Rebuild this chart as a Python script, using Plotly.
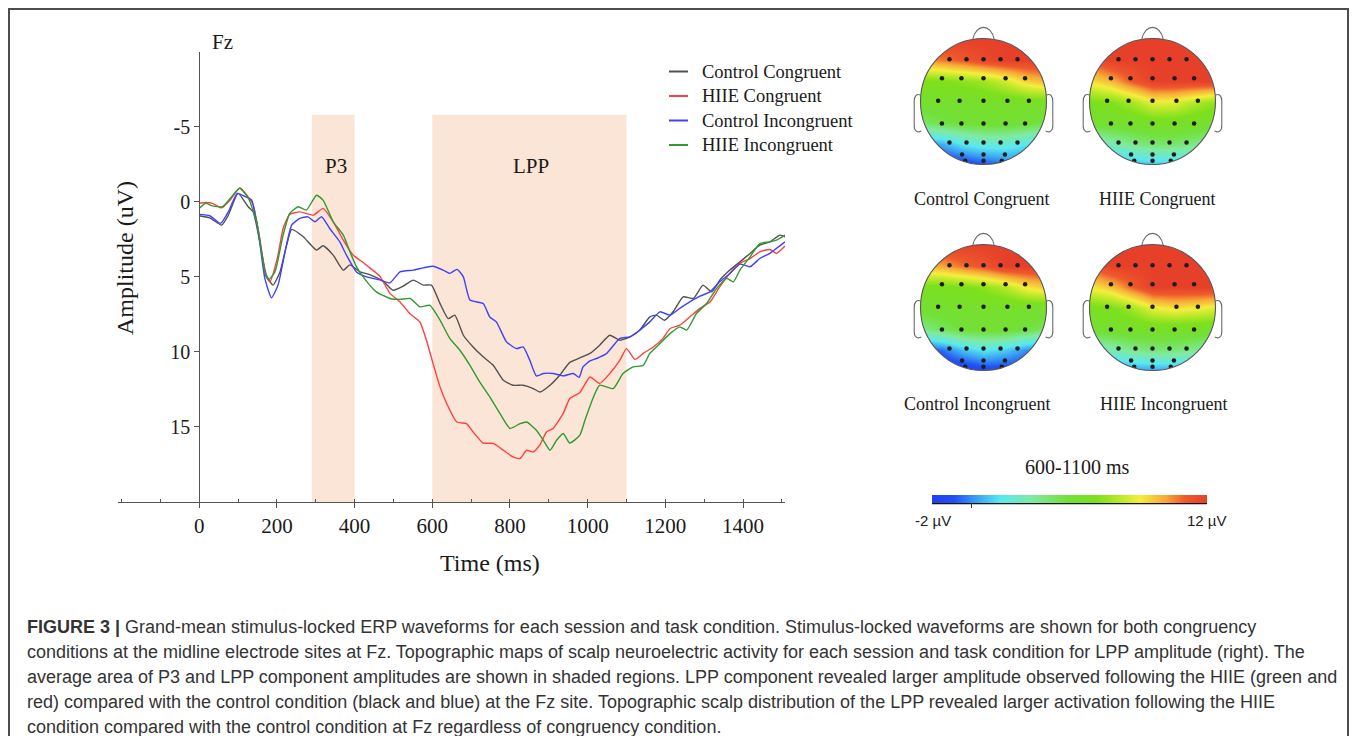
import numpy as np
import plotly.graph_objects as go

# page body has an 8px margin: figure is placed at (8, 8) of the 1357x744 window
OFF = 8
W, H = 1341, 728
SERIF = "Liberation Serif, Times New Roman, serif"
SANS = "Liberation Sans, Arial, sans-serif"

# ---------------- ERP waveforms at Fz (time ms, amplitude uV) ----------------
t_cc = [0, 27, 58, 75, 100, 126, 139, 156, 173, 190, 208, 225, 238, 268, 302, 319, 345, 371, 388, 414,
        439, 474, 499, 525, 551, 577, 598, 620, 641, 658, 680, 705, 731, 757, 783, 808, 834, 860, 877, 903,
        928, 954, 980, 1006, 1031, 1057, 1083, 1109, 1134, 1160, 1177, 1198, 1220, 1246, 1272, 1297, 1319,
        1340, 1366, 1392, 1418, 1443, 1469, 1495, 1508]
v_cc = [0.93, 1.07, 1.55, 0.89, -0.56, 0.33, 0.67, 2.67, 4.9, 5.55, 4.67, 2.89, 1.84, 2.33, 3.22, 2.93, 3.55,
        4.55, 4.2, 4.67, 4.85, 5.3, 5.89, 5.62, 5.22, 5.55, 5.55, 6.78, 7.78, 7.55, 8.89, 9.67, 10.33, 10.89,
        11.89, 12.22, 12.22, 12.44, 12.67, 12.22, 11.55, 10.7, 10.4, 10.1, 9.55, 8.89, 9.22, 9.0, 8.55, 7.67,
        7.55, 7.89, 7.33, 6.33, 6.44, 5.55, 6.0, 5.22, 4.55, 4.0, 3.44, 2.89, 2.67, 2.22, 2.33]

t_hc = [0, 17, 34, 58, 79, 105, 126, 139, 156, 171, 182, 201, 216, 233, 259, 294, 319, 345, 371, 396, 422,
        439, 465, 491, 517, 542, 568, 585, 602, 620, 637, 663, 688, 705, 731, 757, 783, 808, 826, 843, 860,
        877, 894, 911, 937, 954, 980, 1006, 1031, 1057, 1083, 1100, 1122, 1143, 1169, 1194, 1212, 1237, 1263,
        1289, 1315, 1340, 1366, 1392, 1418, 1443, 1469, 1486, 1508]
v_hc = [0.1, 0.05, 0.1, 0.4, -0.1, -0.93, -0.33, 0.22, 2.45, 4.9, 5.33, 3.78, 1.78, 0.84, 0.67, 0.89, 0.44,
        1.33, 2.55, 3.55, 4.04, 4.4, 4.95, 6.1, 6.67, 7.44, 8.0, 9.22, 10.78, 12.33, 13.44, 14.67, 14.78,
        15.33, 16.07, 16.1, 16.55, 17.0, 17.1, 16.55, 16.67, 16.2, 15.33, 15.1, 14.1, 13.1, 12.7, 11.67, 12.1,
        11.44, 10.55, 9.78, 10.5, 10.1, 9.67, 9.1, 8.44, 8.22, 7.67, 7.1, 6.67, 5.67, 4.78, 4.1, 3.78, 3.33,
        3.18, 3.44, 2.95]

t_ci = [0, 27, 55, 75, 98, 120, 135, 152, 169, 186, 203, 221, 238, 259, 280, 298, 315, 336, 362, 379, 405,
        431, 465, 491, 517, 551, 577, 602, 628, 645, 664, 680, 697, 731, 748, 765, 791, 817, 834, 851, 868,
        886, 911, 937, 963, 978, 988, 1006, 1023, 1049, 1083, 1109, 1134, 1160, 1186, 1212, 1237, 1263, 1289,
        1315, 1340, 1366, 1392, 1418, 1443, 1469, 1486, 1508]
v_ci = [0.84, 0.93, 1.44, 0.67, -0.56, -0.33, -0.11, 2.0, 5.1, 6.4, 5.55, 3.33, 1.55, 1.11, 1.0, 1.33, 1.0,
        1.78, 2.67, 3.55, 4.67, 5.0, 5.2, 5.4, 4.67, 4.55, 4.4, 4.29, 4.55, 4.77, 4.5, 5.0, 6.55, 6.78, 7.67,
        8.0, 9.33, 9.78, 9.67, 10.55, 11.6, 11.44, 11.44, 11.6, 11.44, 11.7, 11.0, 10.6, 10.44, 10.1, 9.1,
        9.0, 8.55, 8.0, 7.33, 7.55, 7.1, 6.67, 6.29, 6.0, 5.33, 4.78, 4.15, 4.33, 3.78, 3.44, 3.1, 2.67]

t_hi = [0, 17, 34, 60, 79, 104, 126, 148, 169, 178, 195, 216, 233, 255, 276, 302, 319, 345, 371, 388, 405,
        431, 456, 491, 517, 543, 568, 594, 620, 645, 671, 697, 722, 748, 774, 800, 826, 843, 868, 886, 903,
        920, 937, 954, 980, 993, 1015, 1031, 1066, 1091, 1117, 1143, 1160, 1186, 1212, 1237, 1255, 1280, 1306,
        1332, 1358, 1375, 1392, 1418, 1443, 1469, 1486, 1508]
v_hi = [0.44, 0.1, 0.27, 0.33, -0.2, -0.9, -0.27, 1.33, 4.67, 5.2, 4.67, 2.22, 0.78, 0.33, 0.55, -0.44,
        -0.11, 1.33, 2.22, 3.33, 4.33, 5.3, 6.0, 6.44, 6.5, 6.44, 7.0, 6.9, 7.89, 9.1, 9.89, 10.89, 12.0,
        13.0, 14.1, 15.1, 14.78, 14.67, 15.22, 15.89, 16.55, 15.89, 15.44, 16.07, 15.55, 14.55, 13.0, 12.22,
        12.44, 11.44, 11.0, 10.9, 10.1, 9.44, 8.78, 8.33, 8.55, 7.44, 6.78, 5.78, 5.1, 5.33, 4.55, 3.67, 2.78,
        2.67, 2.55, 2.22]

series_names = ["Control Congruent", "HIIE Congruent", "Control Incongruent", "HIIE Incongruent"]
series_t = [t_cc, t_hc, t_ci, t_hi]
series_v = [v_cc, v_hc, v_ci, v_hi]
series_colors = ["#505050", "#ff4040", "#4040ff", "#2f9a2f"]

# shaded component windows (ms) and label positions (ms)
windows = [("P3", 290, 400, 352), ("LPP", 600, 1100, 854)]
x_ticks = [0, 200, 400, 600, 800, 1000, 1200, 1400]
y_ticks = [-5, 0, 5, 10, 15]
y_ticktext = ["-5", "0", "5", "10", "15"]

# ---------------- topographic maps (600-1100 ms), uV on a 7x7 grid, rows front->back ----------------
grid_pos = [-1.0, -0.6667, -0.3333, 0.0, 0.3333, 0.6667, 1.0]
topo_cc = [[11.5, 12.0, 12.0, 12.0, 12.0, 12.0, 12.0],
           [10.0, 10.5, 11.0, 11.6, 12.0, 12.0, 12.0],
           [6.3, 6.4, 6.7, 7.1, 7.9, 9.1, 9.7],
           [5.5, 5.5, 5.5, 5.6, 5.7, 5.8, 6.0],
           [4.0, 4.6, 5.0, 5.2, 5.2, 5.0, 4.5],
           [0.0, 0.5, 1.5, 2.0, 2.0, 1.5, 0.5],
           [-2.0, -2.0, -1.5, -1.0, -0.5, -0.5, -0.5]]
topo_hc = [[12.0, 12.0, 12.0, 12.0, 12.0, 12.0, 12.0],
           [11.0, 12.0, 12.0, 12.0, 12.0, 12.0, 12.0],
           [8.8, 9.6, 11.0, 12.0, 12.0, 12.0, 12.0],
           [6.2, 6.5, 7.2, 8.4, 8.3, 7.4, 6.8],
           [5.2, 5.4, 5.6, 5.8, 5.8, 5.6, 5.4],
           [2.0, 2.8, 3.5, 4.0, 4.0, 3.6, 3.0],
           [-0.5, 0.0, 0.5, 0.8, 0.8, 0.5, 0.0]]
topo_ci = [[11.5, 12.0, 12.0, 12.0, 12.0, 12.0, 12.0],
           [9.6, 9.9, 10.6, 11.2, 12.0, 12.0, 12.0],
           [6.1, 6.1, 6.3, 6.7, 7.5, 8.7, 9.3],
           [5.3, 5.4, 5.5, 5.5, 5.5, 5.5, 5.5],
           [3.5, 4.3, 5.0, 5.2, 5.2, 4.8, 4.2],
           [-1.0, -0.5, 0.8, 1.5, 1.0, 0.0, -0.5],
           [-2.0, -2.0, -2.0, -1.5, -1.5, -1.5, -1.5]]
topo_hi = [[12.0, 12.0, 12.0, 12.0, 12.0, 12.0, 12.0],
           [11.0, 12.0, 12.0, 12.0, 12.0, 12.0, 12.0],
           [8.6, 9.4, 10.8, 12.0, 12.0, 12.0, 12.0],
           [6.0, 6.3, 7.1, 8.4, 8.8, 8.6, 8.2],
           [5.3, 5.4, 5.6, 5.7, 5.7, 5.6, 5.4],
           [2.0, 2.8, 3.5, 3.8, 3.8, 3.4, 2.8],
           [-1.0, -0.5, 0.0, 0.2, 0.2, 0.0, -0.5]]
topo_maps = [topo_cc, topo_hc, topo_ci, topo_hi]
topo_labels = ["Control Congruent", "HIIE Congruent", "Control Incongruent", "HIIE Incongruent"]

elec_x = [-0.54, -0.27, 0, 0.27, 0.54, -0.66, -0.35, 0, 0.35, 0.66, -0.72, -0.38, 0, 0.38, 0.72,
          -0.66, -0.35, 0, 0.35, 0.66, -0.54, -0.27, 0, 0.27, 0.54, -0.34, 0, 0.34, -0.29, 0, 0.29]
elec_y = [0.67] * 5 + [0.37] * 5 + [0.01] * 5 + [-0.35] * 5 + [-0.65] * 5 + [-0.84] * 3 + [-0.94] * 3

cbar_min, cbar_max = -2, 12
cbar_title = "600-1100 ms"
colorscale = [[0.0, "#1f3ff0"], [0.08, "#2050f5"], [0.16, "#3aa0f2"], [0.25, "#5ae8f0"],
              [0.37, "#80eaa0"], [0.49, "#72e03a"], [0.6, "#7ee01c"], [0.68, "#b8e828"],
              [0.755, "#f4ee3c"], [0.85, "#f7a838"], [0.92, "#ee5a2c"], [1.0, "#e6402a"]]

caption_lines = [
    "<b>FIGURE 3 |</b> Grand-mean stimulus-locked ERP waveforms for each session and task condition. Stimulus-locked waveforms are shown for both congruency",
    "conditions at the midline electrode sites at Fz. Topographic maps of scalp neuroelectric activity for each session and task condition for LPP amplitude (right). The",
    "average area of P3 and LPP component amplitudes are shown in shaded regions. LPP component revealed larger amplitude observed following the HIIE (green and",
    "red) compared with the control condition (black and blue) at the Fz site. Topographic scalp distribution of the LPP revealed larger activation following the HIIE",
    "condition compared with the control condition at Fz regardless of congruency condition.",
]


def px(x):
    return (x - OFF) / W


def py(y):
    return 1 - (y - OFF) / H


def ann(text, x, y, size, family=SERIF, color="#1a1a1a", xanchor="center", yanchor="middle", **kw):
    return dict(text=text, x=px(x), y=py(y), xref="paper", yref="paper", showarrow=False,
                font=dict(size=size, family=family, color=color), xanchor=xanchor, yanchor=yanchor, **kw)


fig = go.Figure()
shapes = []
annotations = []

# ---------------- ERP panel ----------------
for name, tt, vv, col in zip(series_names, series_t, series_v, series_colors):
    fig.add_trace(go.Scatter(x=tt, y=vv, mode="lines", name=name, xaxis="x", yaxis="y",
                             line=dict(color=col, width=1.4, shape="spline", smoothing=0.5),
                             hoverinfo="skip", showlegend=False))

for label, a, b, lx in windows:
    shapes.append(dict(type="rect", xref="x", yref="y", x0=a, x1=b, y0=-5.8, y1=20,
                       fillcolor="#fbe5d6", line=dict(width=0), layer="below"))
    annotations.append(dict(text=label, x=lx, y=-2.4, xref="x", yref="y",
                            showarrow=False, font=dict(size=21, family=SERIF, color="#1a1a1a")))

annotations.append(ann("Fz", 222, 42, 21))
annotations.append(ann("Amplitude (uV)", 125, 258, 24, textangle=-90))
annotations.append(ann("Time (ms)", 490, 563, 24))

# legend (manual)
leg_y = [71.5, 96, 120.5, 145]
for name, col, yy in zip(series_names, series_colors, leg_y):
    shapes.append(dict(type="line", xref="paper", yref="paper", x0=px(669), x1=px(688), y0=py(yy), y1=py(yy),
                       line=dict(color=col, width=2)))
    annotations.append(ann(name, 700, yy, 18.5, xanchor="left"))

# ---------------- topomaps ----------------
centers = [(983.5, 101.5), (1152.5, 101.5), (983.5, 307.5), (1152.5, 307.5)]
label_pos = [(982, 199), (1157, 199), (977, 404), (1163, 404)]
R = 63.0
half = 1.3 * R

theta = np.linspace(0, 2 * np.pi, 181)
circle_path = " ".join(("M" if i == 0 else "L") + f" {np.cos(a):.4f},{np.sin(a):.4f}" for i, a in enumerate(theta)) + " Z"
mask_path = "M -1.3,-1.3 L 1.3,-1.3 L 1.3,1.3 L -1.3,1.3 Z " + circle_path
nose_path = "M -0.17,0.985 C -0.12,1.24 0.12,1.24 0.17,0.985"
ear_l = "M -0.995,0.10 C -1.06,0.13 -1.10,0.09 -1.10,0.0 L -1.10,-0.38 C -1.10,-0.47 -1.05,-0.50 -0.985,-0.47"
ear_r = "M 0.995,0.10 C 1.06,0.13 1.10,0.09 1.10,0.0 L 1.10,-0.38 C 1.10,-0.47 1.05,-0.50 0.985,-0.47"

layout_axes = {}
for i, (grid, (cx, cy), lab, lp) in enumerate(zip(topo_maps, centers, topo_labels, label_pos)):
    k = i + 2
    xa, ya = f"x{k}", f"y{k}"
    layout_axes[f"xaxis{k}"] = dict(domain=[px(cx - half), px(cx + half)], range=[-1.3, 1.3], visible=False,
                                    fixedrange=True, anchor=ya)
    layout_axes[f"yaxis{k}"] = dict(domain=[py(cy + half), py(cy - half)], range=[-1.3, 1.3], visible=False,
                                    fixedrange=True, anchor=xa)
    fig.add_trace(go.Heatmap(z=grid[::-1], x=grid_pos, y=grid_pos, coloraxis="coloraxis", zsmooth="best",
                             xaxis=xa, yaxis=ya, hoverinfo="skip"))
    fig.add_trace(go.Scatter(x=elec_x, y=elec_y, mode="markers", xaxis=xa, yaxis=ya, showlegend=False,
                             marker=dict(size=4.5, color="#1e1e1e"), hoverinfo="skip"))
    shapes.append(dict(type="path", xref=xa, yref=ya, path=mask_path, fillcolor="white", fillrule="evenodd",
                       line=dict(width=0), layer="above"))
    shapes.append(dict(type="circle", xref=xa, yref=ya, x0=-1, x1=1, y0=-1, y1=1,
                       line=dict(color="#555555", width=1.1), layer="above"))
    for p in (nose_path, ear_l, ear_r):
        shapes.append(dict(type="path", xref=xa, yref=ya, path=p, line=dict(color="#6a6a6a", width=1.1),
                           layer="above"))
    annotations.append(ann(lab, lp[0], lp[1], 18))

# colorbar
annotations.append(ann(cbar_title, 1077, 467, 20))
annotations.append(ann(f"{cbar_min} µV", 933, 520, 15, family=SANS, color="#222"))
annotations.append(ann(f"{cbar_max} µV", 1207, 520, 15, family=SANS, color="#222"))
shapes.append(dict(type="line", xref="paper", yref="paper", x0=px(932), x1=px(1207), y0=py(503.5), y1=py(503.5),
                   line=dict(color="#111", width=1.5)))

# caption
for j, line in enumerate(caption_lines):
    annotations.append(ann(line, 25, 627 + 25 * j, 18.0, family=SANS, color="#333333", xanchor="left"))

# frame
shapes.append(dict(type="rect", xref="paper", yref="paper", x0=px(9), x1=px(1348), y0=-0.05, y1=py(9),
                   line=dict(color="#4d4d4d", width=2)))

fig.update_layout(
    width=W, height=H, margin=dict(l=0, r=0, t=0, b=0), autosize=False,
    paper_bgcolor="white", plot_bgcolor="white", showlegend=False,
    xaxis=dict(domain=[px(118), px(785)], range=[-209, 1508], anchor="y", showgrid=False, zeroline=False,
               showline=True, linecolor="#555", linewidth=1.3, ticks="outside", ticklen=5, tickcolor="#555",
               tickvals=x_ticks, tickfont=dict(size=21, family=SERIF, color="#1a1a1a"),
               minor=dict(ticks="inside", ticklen=3, dtick=100, tick0=0, tickcolor="#555", showgrid=False),
               fixedrange=True),
    yaxis=dict(domain=[py(502), py(51.7)], range=[20, -10], anchor="free", position=px(199.3),
               showgrid=False, zeroline=False, showline=True, linecolor="#555", linewidth=1.3,
               ticks="outside", ticklen=5, tickcolor="#555", tickvals=y_ticks, ticktext=y_ticktext,
               tickfont=dict(size=20, family=SERIF, color="#1a1a1a"), fixedrange=True),
    coloraxis=dict(colorscale=colorscale, cmin=cbar_min, cmax=cbar_max,
                   colorbar=dict(orientation="h", x=px(1069.5), xanchor="center", y=py(495), yanchor="top",
                                 len=275, lenmode="pixels", thickness=8, thicknessmode="pixels",
                                 outlinewidth=0, tickvals=[0], ticks="outside", ticklen=5, tickcolor="#333",
                                 showticklabels=False, xpad=0, ypad=0)),
    shapes=shapes, annotations=annotations,
    **layout_axes,
)

fig.write_html("out.html")
